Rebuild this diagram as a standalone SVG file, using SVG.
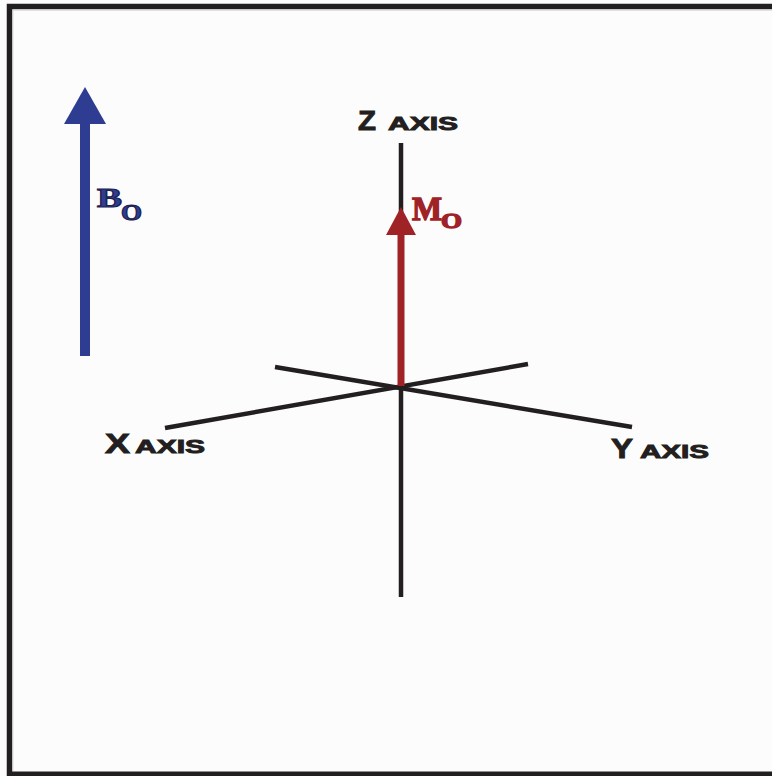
<svg xmlns="http://www.w3.org/2000/svg" width="772" height="776" viewBox="0 0 772 776">
<style>
.axis{stroke:#231f20;stroke-width:4.5;fill:none;stroke-linecap:butt}
.lbl{font-family:"Liberation Sans",Arial,sans-serif;font-weight:bold;fill:#231f20;stroke:#231f20;stroke-width:0.9}
.big{font-size:27px}
.sm{font-size:18px}
.bo{font-family:"Liberation Serif","Times New Roman",serif;font-weight:bold;fill:#2e3d92;stroke:#1c2150;stroke-width:1.2}
.mo{font-family:"Liberation Serif","Times New Roman",serif;font-weight:bold;fill:#9f2226;stroke:#9f2226;stroke-width:1.4}
</style>
<rect x="0" y="0" width="772" height="776" fill="#fcfcfc"/>
<g id="frame">
<path d="M9.5,776 V6.5 H772" fill="none" stroke="#231f20" stroke-width="5.5"/>
<path d="M9.5,774 H772" fill="none" stroke="#231f20" stroke-width="5"/>
<path d="M12.8,771 V10 H772" fill="none" stroke="#c8c8c8" stroke-width="1"/>
</g>
<g id="connectors">
<line class="axis" x1="401" y1="143" x2="401" y2="597"/>
<line class="axis" x1="165" y1="428" x2="528" y2="364"/>
<line class="axis" x1="275" y1="367" x2="632" y2="427"/>
<line x1="401" y1="386" x2="401" y2="232" stroke="#9f2226" stroke-width="7"/>
<polygon points="401,207 386,235 416,235" fill="#9f2226"/>
<line x1="85" y1="356" x2="85" y2="118" stroke="#2e3d92" stroke-width="10"/>
<polygon points="85,87 64,124 106,124" fill="#2e3d92"/>
</g>
<g id="z-label">
<text class="lbl big" x="358" y="130" textLength="18" lengthAdjust="spacingAndGlyphs">Z</text>
<text class="lbl sm" x="388" y="130" textLength="70" lengthAdjust="spacingAndGlyphs">AXIS</text>
</g>
<g id="x-label">
<text class="lbl big" x="105" y="453" textLength="25" lengthAdjust="spacingAndGlyphs">X</text>
<text class="lbl sm" x="135" y="453" textLength="70" lengthAdjust="spacingAndGlyphs">AXIS</text>
</g>
<g id="y-label">
<text class="lbl big" x="611" y="458" textLength="22" lengthAdjust="spacingAndGlyphs">Y</text>
<text class="lbl sm" x="640" y="458" textLength="69" lengthAdjust="spacingAndGlyphs">AXIS</text>
</g>
<g id="bo-label">
<text class="bo" x="97" y="207" font-size="28" textLength="25" lengthAdjust="spacingAndGlyphs">B</text>
<text class="bo" x="121" y="220" font-size="24" textLength="21" lengthAdjust="spacingAndGlyphs">O</text>
</g>
<g id="mo-label">
<text class="mo" x="412" y="220" font-size="33" textLength="30" lengthAdjust="spacingAndGlyphs">M</text>
<text class="mo" x="441" y="228" font-size="22" textLength="21" lengthAdjust="spacingAndGlyphs">O</text>
</g>
</svg>
